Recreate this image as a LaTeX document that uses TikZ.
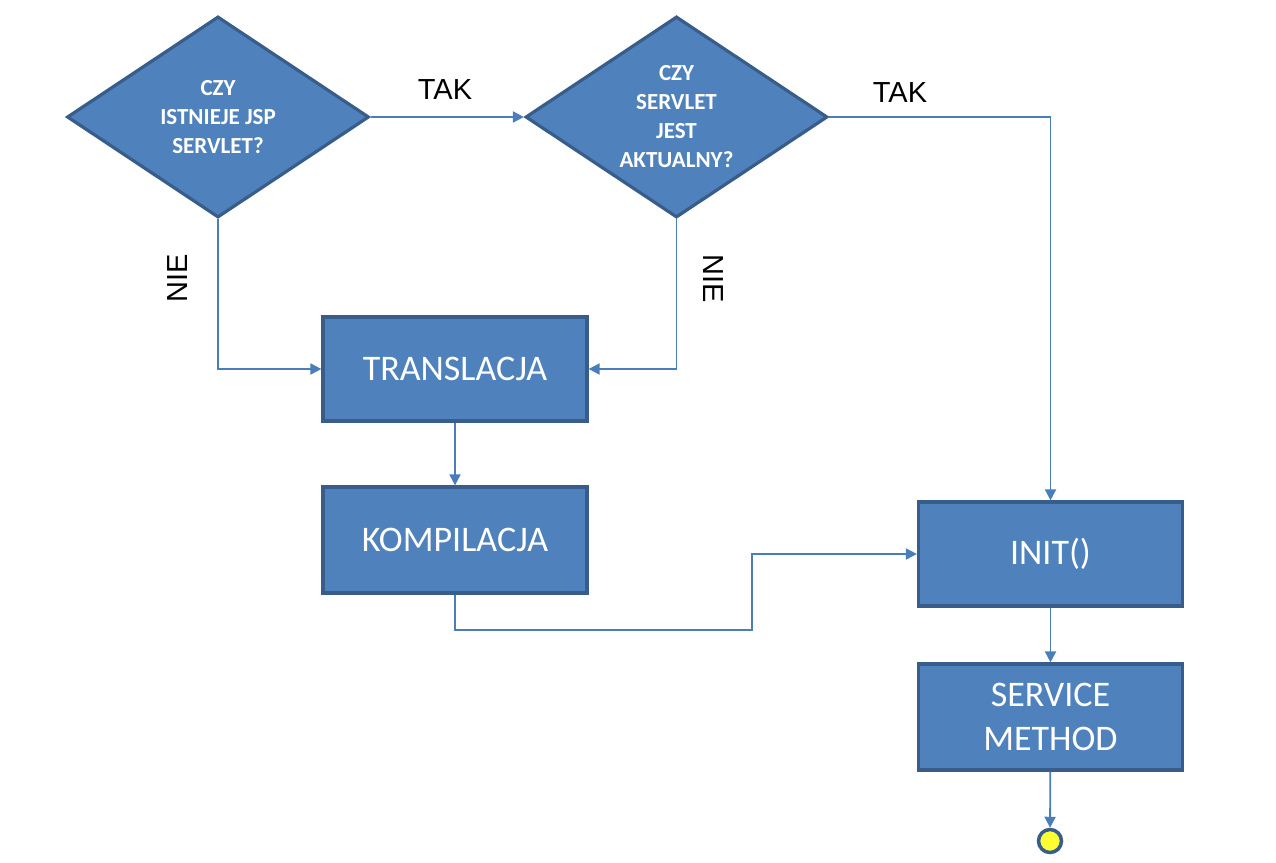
\documentclass[tikz,border=0pt]{standalone}
\usepackage{fontspec}
\setmainfont{Carlito}
\newfontfamily\arialf{Liberation Sans}
\usetikzlibrary{shapes.geometric,arrows.meta}
\definecolor{boxfill}{HTML}{4F81BD}
\definecolor{boxline}{HTML}{385D8A}
\definecolor{connline}{HTML}{4A7EBB}
\definecolor{endfill}{HTML}{FFFF33}
\tikzset{
  procbox/.style={draw=boxline, line width=3.2pt, fill=boxfill, minimum width=264pt, minimum height=104pt, inner sep=0pt, text=white, align=center, font=\fontsize{36}{44}\selectfont},
  decbox/.style={diamond, draw=boxline, line width=3.2pt, fill=boxfill, minimum width=302pt, minimum height=201pt, inner sep=0pt},
  dectext/.style={text=white, align=center, font=\fontsize{23}{29}\bfseries\selectfont},
  conn/.style={draw=connline, line width=1.8pt, -{Triangle[length=11pt,width=11pt]}},
  lbl/.style={font=\arialf\fontsize{29}{30}\selectfont, text=black},
  endpt/.style={circle, draw=boxline, line width=3.5pt, fill=endfill, minimum size=23pt, inner sep=0pt}
}
\begin{document}
\begin{tikzpicture}[x=1pt,y=-1pt]
\useasboundingbox (0,0) rectangle (1276,862);
\node[decbox, label={[dectext]center:CZY\\ISTNIEJE JSP\\SERVLET?}] (d1) at (218,117) {};
\node[decbox, label={[dectext]center:CZY\\SERVLET\\JEST\\AKTUALNY?}] (d2) at (676.5,117) {};
\node[procbox] (trans) at (455,369) {TRANSLACJA};
\node[procbox, minimum height=106pt] (komp) at (455,540) {KOMPILACJA};
\node[procbox] (init) at (1050.5,554) {INIT()};
\node[procbox, minimum height=106pt] (serv) at (1050.5,717) {SERVICE\\METHOD};
\node[endpt] (end) at (1050,841) {};
\coordinate (k1) at (752,630);
\draw[conn] (d1.east) -- (d2.west);
\draw[conn] (d2.east) -| (init.north);
\draw[conn] (d1.south) |- (trans.west);
\draw[conn] (d2.south) |- (trans.east);
\draw[conn] (trans) -- (komp);
\draw[conn] (komp.south) |- (k1) |- (init.west);
\draw[conn] (init) -- (serv);
\draw[conn] (serv) -- (end);
\node[lbl] (tak1) at (445,90) {TAK};
\node[lbl] (tak2) at (900,93) {TAK};
\node[lbl, rotate=90] (nie1) at (178,278) {NIE};
\node[lbl, rotate=-90] (nie2) at (713,279) {NIE};
\end{tikzpicture}
\end{document}
